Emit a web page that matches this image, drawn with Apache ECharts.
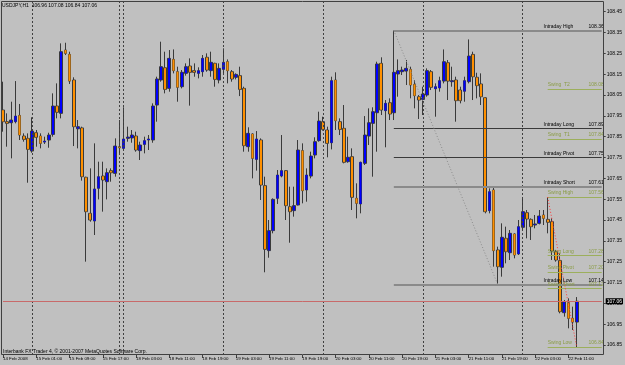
<!DOCTYPE html>
<html><head><meta charset="utf-8">
<script src="https://cdn.jsdelivr.net/npm/echarts@6/dist/echarts.min.js"></script>
<style>html,body{margin:0;padding:0;background:#c0c0c0}#c{width:625px;height:365px}</style>
</head><body><div id="c"></div>
<script>
const symbolTitle = 'USDJPY,H1  106.96 107.08 106.84 107.06';
const copyright = 'Interbank FX Trader 4, \u00a9 2001-2007 MetaQuotes Software Corp.';
const tickLabels = ['14 Feb 2008','15 Feb 01:00','15 Feb 09:00','15 Feb 17:00','18 Feb 03:00','18 Feb 11:00','18 Feb 19:00','19 Feb 03:00','19 Feb 11:00','19 Feb 19:00','20 Feb 03:00','20 Feb 11:00','20 Feb 19:00','21 Feb 03:00','21 Feb 11:00','21 Feb 19:00','22 Feb 03:00','22 Feb 11:00'];
const priceTicks = [106.85,106.95,107.05,107.15,107.25,107.35,107.45,107.55,107.65,107.75,107.85,107.95,108.05,108.15,108.25,108.35,108.45];

const opens = [107.978,107.922,107.917,107.922,107.952,107.853,107.842,107.781,107.869,107.853,107.824,107.834,107.861,107.997,107.962,108.266,108.245,108.122,107.888,107.892,107.655,107.482,107.445,107.602,107.661,107.634,107.687,107.674,107.802,107.794,107.842,107.844,107.853,107.783,107.813,107.834,107.834,108.002,108.122,108.181,108.082,108.221,108.162,108.09,108.154,108.189,108.167,108.154,108.162,108.231,108.167,108.202,108.122,108.173,108.21,108.162,108.135,108.143,108.082,107.802,107.863,107.741,107.834,107.615,107.303,107.399,107.554,107.661,107.687,107.514,107.495,107.522,107.783,107.594,107.661,107.762,107.831,107.922,107.882,107.821,108.122,107.922,107.89,107.73,107.754,107.554,107.527,107.722,107.853,107.914,107.965,108.202,107.975,108.013,107.965,108.151,108.162,108.165,108.173,108.101,108.042,108.029,108.05,108.162,108.08,108.084,108.117,108.205,108.114,108.122,108.074,108.068,108.114,108.245,108.135,108.103,108.037,107.495,107.594,107.306,107.223,107.362,107.293,107.383,107.287,107.415,107.485,107.453,107.426,107.434,107.474,107.453,107.442,107.298,107.255,107.005,107.053,106.978,106.96];
const closes = [107.922,107.914,107.93,107.949,107.858,107.837,107.789,107.877,107.847,107.818,107.829,107.858,107.997,107.967,108.258,108.25,108.117,107.898,107.898,107.658,107.49,107.45,107.599,107.658,107.642,107.677,107.677,107.805,107.797,107.839,107.848,107.858,107.786,107.81,107.831,107.839,107.997,108.127,108.186,108.077,108.226,108.167,108.087,108.159,108.186,108.159,108.159,108.167,108.226,108.17,108.207,108.125,108.178,108.207,108.167,108.127,108.149,108.077,107.807,107.866,107.746,107.839,107.618,107.309,107.399,107.549,107.666,107.687,107.519,107.49,107.519,107.786,107.591,107.666,107.757,107.826,107.925,107.885,107.818,108.119,107.927,107.885,107.727,107.751,107.559,107.53,107.727,107.858,107.917,107.97,108.199,107.978,108.01,107.959,108.159,108.167,108.17,108.178,108.098,108.047,108.026,108.055,108.167,108.087,108.09,108.119,108.21,108.117,108.119,108.023,108.023,108.119,108.237,108.138,108.095,108.042,107.49,107.586,107.303,107.226,107.367,107.298,107.386,107.282,107.418,107.49,107.455,107.418,107.431,107.469,107.458,107.439,107.301,107.258,107.01,107.058,106.978,106.96,107.06];
const lows = [107.874,107.802,107.746,107.914,107.834,107.826,107.629,107.773,107.802,107.794,107.815,107.797,107.85,107.938,107.938,108.242,108.103,107.805,107.794,107.639,107.25,107.442,107.378,107.549,107.49,107.549,107.634,107.658,107.77,107.783,107.826,107.821,107.778,107.738,107.77,107.786,107.821,107.922,108.114,108.058,108.066,108.154,108.018,108.082,108.143,107.999,108.138,108.13,108.138,108.162,108.138,108.09,108.106,108.146,108.106,108.114,108.125,108.045,107.778,107.778,107.65,107.687,107.546,107.199,107.269,107.386,107.527,107.655,107.45,107.341,107.466,107.52,107.53,107.538,107.65,107.746,107.826,107.879,107.751,107.789,107.882,107.858,107.722,107.725,107.498,107.458,107.482,107.714,107.81,107.658,107.778,107.954,107.799,107.93,107.93,108.042,108.146,108.098,108.034,107.986,107.935,107.954,108.042,108.074,107.946,108.066,108.106,108.026,108.09,107.922,108.01,108.018,108.106,108.026,108.034,108.002,107.482,107.482,107.226,107.14,107.178,107.242,107.258,107.266,107.282,107.402,107.362,107.354,107.41,107.429,107.426,107.386,107.258,107.25,107.002,106.986,106.93,106.922,106.84];
const highs = [108.114,107.962,108.018,108.117,108.007,107.866,107.866,107.943,107.882,107.866,107.85,107.869,108.058,108.106,108.298,108.301,108.258,108.135,107.93,107.898,107.658,107.698,107.818,107.73,107.73,107.698,107.698,107.842,107.93,107.991,107.898,107.882,107.874,107.826,107.85,107.858,108.01,108.138,108.306,108.258,108.266,108.269,108.186,108.17,108.202,108.226,108.202,108.183,108.242,108.25,108.258,108.205,108.202,108.274,108.221,108.17,108.154,108.186,108.09,107.895,107.866,107.877,107.842,107.658,107.45,107.554,107.69,107.858,107.69,107.61,107.61,107.834,107.818,107.698,107.778,107.847,107.97,107.946,107.898,108.138,108.159,107.938,108.002,107.85,107.794,107.626,107.73,107.949,107.986,107.991,108.21,108.231,108.026,108.034,108.36,108.221,108.186,108.218,108.186,108.122,108.05,108.09,108.178,108.17,108.106,108.138,108.269,108.218,108.186,108.138,108.09,108.138,108.317,108.258,108.157,108.154,108.04,107.602,107.61,107.322,107.434,107.418,107.402,107.386,107.45,107.551,107.498,107.458,107.474,107.498,107.498,107.56,107.458,107.306,107.29,107.066,107.074,107.034,107.08];

const separators = [7, 28, 29, 53, 77, 101, 125];
const intradayNames = ['Intraday High','Intraday Long','Intraday Pivot','Intraday Short','Intraday Low'];
const intradayValues = [108.36, 107.89, 107.75, 107.61, 107.14];
const swingNames = ['Swing  T2','Swing  T1','Swing High','Swing Long','Swing Pivot','Swing Short','Swing Low'];
const swingValues = [108.08, 107.84, 107.56, 107.28, 107.20, 107.12, 106.84];
const lastPrice = 107.06;
const zigzag = [[94, 108.36], [119, 107.14]];
const swingLeg = [[131, 107.56], [138, 106.84]];
const intradayStart = 94, swingStart = 131;
const intradayNameAt = 130.2, swingNameAt = 131.2;

const N = 145;
const cats = Array.from({length: N}, (_, i) => String(i));
const candles = opens.map((o, i) => [o, closes[i], lows[i], highs[i]]);
const bodies = opens.map((o, i) => [o, closes[i], Math.min(o, closes[i]), Math.max(o, closes[i])]);
const FONT = 'Liberation Sans';
const END = N - 1;

const intradayStyle = [
  {color: '#8a8a8a', width: 2}, {color: '#3a3a3a', width: 1}, {color: '#3a3a3a', width: 1},
  {color: '#8a8a8a', width: 2}, {color: '#8a8a8a', width: 2}
];
function levelLine(name, value, start, nameAt, ls, textColor) {
  const txt = {fontSize: 5, color: textColor, fontFamily: FONT};
  return [
    [{coord: [start, value], lineStyle: {color: ls.color, width: ls.width, type: 'solid'},
      label: Object.assign({show: true, position: 'insideEndTop', distance: [-2, 1.5], formatter: value.toFixed(2)}, txt)},
     {coord: [END, value]}],
    [{coord: [nameAt, value], lineStyle: {color: 'rgba(0,0,0,0)', width: 1, type: 'solid'},
      label: Object.assign({show: true, position: 'insideStartTop', distance: [0, 1.5], formatter: name}, txt)},
     {coord: [END, value]}]
  ];
}
const levelData = [];
intradayNames.forEach((n, k) => levelData.push(...levelLine(n, intradayValues[k], intradayStart, intradayNameAt, intradayStyle[k], '#000')));
swingNames.forEach((n, k) => levelData.push(...levelLine(n, swingValues[k], swingStart, swingNameAt, {color: '#9caf5c', width: 1}, '#8a9c45')));
levelData.push([
  {coord: [0, lastPrice], lineStyle: {color: '#c86a6a', width: 1, type: 'solid'},
   label: {show: true, position: 'end', distance: 4, formatter: lastPrice.toFixed(2),
     backgroundColor: '#000', color: '#fff', fontSize: 5, fontFamily: FONT, padding: [1, 1, 0, 1]}},
  {coord: [END, lastPrice]}
]);
levelData.push([
  {coord: zigzag[0], lineStyle: {color: '#8c8c8c', width: 1, type: [1, 2]}, label: {show: false}},
  {coord: zigzag[1]}
]);
levelData.push([
  {coord: swingLeg[0], lineStyle: {color: '#ff3a3a', width: 1, type: [1, 2]}, label: {show: false}},
  {coord: swingLeg[1]}
]);

const chart = echarts.init(document.getElementById('c'), null, {renderer: 'canvas'});
chart.setOption({
  animation: false,
  backgroundColor: '#c0c0c0',
  grid: {left: 1.8, width: 600, top: 2, height: 353},
  xAxis: {
    type: 'category', data: cats, boundaryGap: false,
    axisLine: {show: false},
    axisTick: {show: true, length: 3, interval: (i) => i % 8 === 0 && i / 8 < tickLabels.length, lineStyle: {color: '#404040'}},
    axisLabel: {interval: (i) => i % 8 === 0 && i / 8 < tickLabels.length,
      formatter: (v, i) => tickLabels[i / 8] || '', align: 'left', fontSize: 4.4, color: '#000', fontFamily: FONT, margin: 2},
    splitLine: {show: false}
  },
  yAxis: {
    type: 'value', position: 'right', offset: 2, min: 106.8019, max: 108.4966, scale: true,
    axisLine: {show: false}, splitLine: {show: false},
    axisTick: {show: true, length: 2, customValues: priceTicks, lineStyle: {color: '#404040'}},
    axisLabel: {customValues: priceTicks, formatter: (v) => v.toFixed(2), fontSize: 5, color: '#000', fontFamily: FONT, margin: 3}
  },
  series: [
    {type: 'line', data: [], z: 1, silent: true,
     markLine: {silent: true, symbol: ['none', 'none'], animation: false,
       label: {show: false},
       lineStyle: {color: '#404040', width: 1, type: [2, 2]},
       data: separators.map(s => ({xAxis: s}))}},
    {type: 'line', data: [], z: 2, silent: true,
     markLine: {silent: true, symbol: ['none', 'none'], animation: false, data: levelData}},
    {type: 'candlestick', data: candles, z: 3, barWidth: 3.2, silent: true,
     itemStyle: {color: '#0000ff', color0: '#ff9000', borderColor: '#3a3a3a', borderColor0: '#3a3a3a', borderWidth: 1}},
    {type: 'candlestick', data: bodies, z: 4, barWidth: 1.8, silent: true,
     itemStyle: {color: '#0000ff', color0: '#ff9000', borderColor: '#0000ff', borderColor0: '#ff9000', borderWidth: 0}}
  ],
  graphic: [
    {type: 'rect', silent: true, z: 100, shape: {x: 1.5, y: 1.5, width: 602, height: 353},
     style: {fill: 'none', stroke: '#404040', lineWidth: 1}},
    {type: 'text', left: 2, top: 3.5, z: 100, style: {text: symbolTitle, font: '5px "Liberation Sans"', fill: '#000'}},
    {type: 'text', left: 3, top: 349.5, z: 100, style: {text: copyright, font: '5px "Liberation Sans"', fill: '#000'}}
  ]
});
</script></body></html>
